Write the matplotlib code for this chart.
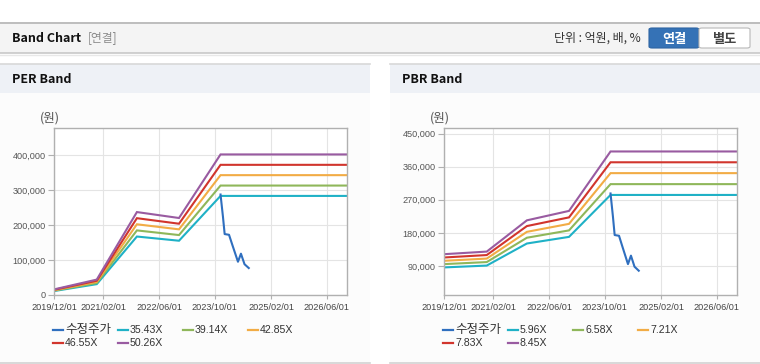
import matplotlib
matplotlib.use('Agg')
import matplotlib.pyplot as plt
import matplotlib.dates as mdates
import pandas as pd
from matplotlib.patches import Rectangle, FancyBboxPatch
from matplotlib.lines import Line2D
from matplotlib.ticker import FuncFormatter, FixedLocator

# 데이터
band_dates = ['2019-12-01', '2020-12-05', '2021-11-20', '2022-11-22', '2023-11-19', '2026-11-28']

per_labels = ['35.43X', '39.14X', '42.85X', '46.55X', '50.26X']
per_3543 = [11400, 31000, 167000, 155000, 283000, 283000]
per_3914 = [12600, 34200, 184500, 171200, 312600, 312600]
per_4285 = [13800, 37500, 202000, 187500, 342300, 342300]
per_4655 = [15000, 40700, 219400, 203600, 371800, 371800]
per_5026 = [16200, 44000, 236900, 219900, 401500, 401500]

pbr_labels = ['5.96X', '6.58X', '7.21X', '7.83X', '8.45X']
pbr_596 = [86000, 91000, 151000, 169000, 283000, 283000]
pbr_658 = [95000, 100500, 166700, 186600, 312400, 312400]
pbr_721 = [104000, 110000, 182700, 204400, 342300, 342300]
pbr_783 = [113000, 119600, 198400, 222000, 371800, 371800]
pbr_845 = [122000, 129000, 214000, 239600, 401200, 401200]

price_dates = ['2023-11-19', '2023-12-10', '2023-12-25', '2024-02-01', '2024-03-01',
               '2024-04-19', '2024-05-15', '2024-06-15', '2024-07-22']
price = [287000, 224000, 174000, 172000, 143000, 95000, 118000, 88000, 77000]

xtick_labels = ['2019/12/01', '2021/02/01', '2022/06/01', '2023/10/01', '2025/02/01', '2026/06/01']
per_yticks = [0, 100000, 200000, 300000, 400000]
pbr_yticks = [90000, 180000, 270000, 360000, 450000]

price_name = '수정주가'
band_colors = ['#1fb1c6', '#8fb75a', '#f2ac45', '#d1352d', '#995ba1']
price_color = '#2f6fbf'

W, H = 760, 364
KR = ['Noto Sans CJK KR', 'DejaVu Sans']
NUM = ['Liberation Sans', 'Noto Sans CJK KR']

fig = plt.figure(figsize=(W / 100, H / 100), dpi=100)
fig.patch.set_facecolor('white')


def fx(x):
    return x / W


def fy(y):
    return 1 - y / H


def box(x0, y0, x1, y1, fc, ec='none', lw=0):
    r = Rectangle((fx(x0), fy(y1)), fx(x1) - fx(x0), fy(y0) - fy(y1),
                  transform=fig.transFigure, fc=fc, ec=ec, lw=lw, zorder=-10)
    fig.add_artist(r)


def hline(x0, x1, y, c, lw=1):
    fig.add_artist(Line2D([fx(x0), fx(x1)], [fy(y), fy(y)], transform=fig.transFigure,
                          color=c, lw=lw, zorder=-9))


# 상단 헤더
box(0, 22, 760, 53, '#f4f4f4')
hline(0, 760, 22.5, '#b4b4b4', 1.2)
hline(0, 760, 53, '#c8c8c8', 1.2)
hline(0, 760, 54.5, '#e8e8e8', 1)
fig.text(fx(12), fy(38), 'Band Chart', family=KR, fontsize=9, fontweight='bold', color='#111', va='center')
fig.text(fx(88), fy(38), '[연결]', family=KR, fontsize=8.5, color='#8a8a8a', va='center')
fig.text(fx(641), fy(38), '단위 : 억원, 배, %', family=KR, fontsize=8.6, color='#333', va='center', ha='right')
b1 = FancyBboxPatch((fx(649), fy(48)), fx(50), fy(28) - fy(48), boxstyle='round,pad=0,rounding_size=0.004',
                    transform=fig.transFigure, fc='#3572b6', ec='#2d64a3', lw=0.8)
fig.add_artist(b1)
b2 = FancyBboxPatch((fx(699), fy(48)), fx(51), fy(28) - fy(48), boxstyle='round,pad=0,rounding_size=0.004',
                    transform=fig.transFigure, fc='white', ec='#b8b8b8', lw=0.8)
fig.add_artist(b2)
fig.text(fx(674), fy(38.5), '연결', family=KR, fontsize=9.5, fontweight='bold', color='white', ha='center', va='center')
fig.text(fx(725), fy(38.5), '별도', family=KR, fontsize=9.5, fontweight='bold', color='#444', ha='center', va='center')

# 패널
panels = [(0, 370, 'PER Band'), (390, 760, 'PBR Band')]
for x0, x1, title in panels:
    box(x0, 64, x1, 363, '#fcfcfc')
    box(x0, 64, x1, 92.5, '#eef1f6')
    hline(x0, x1, 64, '#d8d8d8', 1.2)
    hline(x0, x1, 363, '#d2d2d2', 1.2)
    fig.text(fx(x0 + 12), fy(79.5), title, family=KR, fontsize=9, fontweight='bold', color='#111', va='center')

tick_dates = pd.to_datetime(xtick_labels, format='%Y/%m/%d')
xmin, xmax = pd.Timestamp('2019-12-01'), pd.Timestamp('2026-11-28')
bd = pd.to_datetime(band_dates)
pd_dates = pd.to_datetime(price_dates)


def draw(ax, bands, yticks, ylim):
    ax.set_facecolor('white')
    for vals, c in zip(bands, band_colors):
        ax.plot(bd, vals, color=c, lw=1.5, solid_joinstyle='miter')
    ax.plot(pd_dates, price, color=price_color, lw=1.5)
    ax.set_xlim(xmin, xmax)
    ax.set_ylim(*ylim)
    ax.xaxis.set_major_locator(FixedLocator(mdates.date2num(tick_dates)))
    ax.set_xticklabels(xtick_labels)
    ax.set_yticks(yticks)
    ax.yaxis.set_major_formatter(FuncFormatter(lambda v, p: f'{int(v):,}'))
    ax.grid(True, color='#e4e4e4', lw=0.8)
    ax.set_axisbelow(True)
    for s in ax.spines.values():
        s.set_color('#b0b0b0')
        s.set_linewidth(1.0)
    ax.tick_params(axis='x', length=3, width=0.8, color='#b0b0b0', pad=3, labelsize=6.6, labelcolor='#444')
    ax.tick_params(axis='y', length=4, width=0.8, color='#b0b0b0', pad=2, labelsize=6.6, labelcolor='#555')
    for t in ax.get_xticklabels() + ax.get_yticklabels():
        t.set_family(NUM)


ax1 = fig.add_axes([fx(54.3), fy(295), fx(293), fy(128) - fy(295)])
draw(ax1, [per_3543, per_3914, per_4285, per_4655, per_5026], per_yticks, (0, 477000))
ax2 = fig.add_axes([fx(444.3), fy(295), fx(293), fy(128) - fy(295)])
draw(ax2, [pbr_596, pbr_658, pbr_721, pbr_783, pbr_845], pbr_yticks, (11000, 465000))

fig.text(fx(49.5), fy(118), '(원)', family=KR, fontsize=9, color='#555', ha='center', va='center')
fig.text(fx(440), fy(118), '(원)', family=KR, fontsize=9, color='#555', ha='center', va='center')

# 범례
col_x = [53, 118, 183, 248]
row_y = [330, 343]
for x0, labels in [(0, per_labels), (390, pbr_labels)]:
    names = [price_name] + labels
    colors = [price_color] + band_colors
    for i, (n, c) in enumerate(zip(names, colors)):
        lx = x0 + col_x[i % 4]
        ly = row_y[i // 4]
        fig.add_artist(Line2D([fx(lx), fx(lx + 10)], [fy(ly), fy(ly)], transform=fig.transFigure, color=c, lw=1.6))
        fs = 9 if i == 0 else 7.6
        fig.text(fx(lx + 12), fy(ly), n, family=NUM, fontsize=fs, color='#333', va='center')

fig.savefig('out.png', dpi=100)
